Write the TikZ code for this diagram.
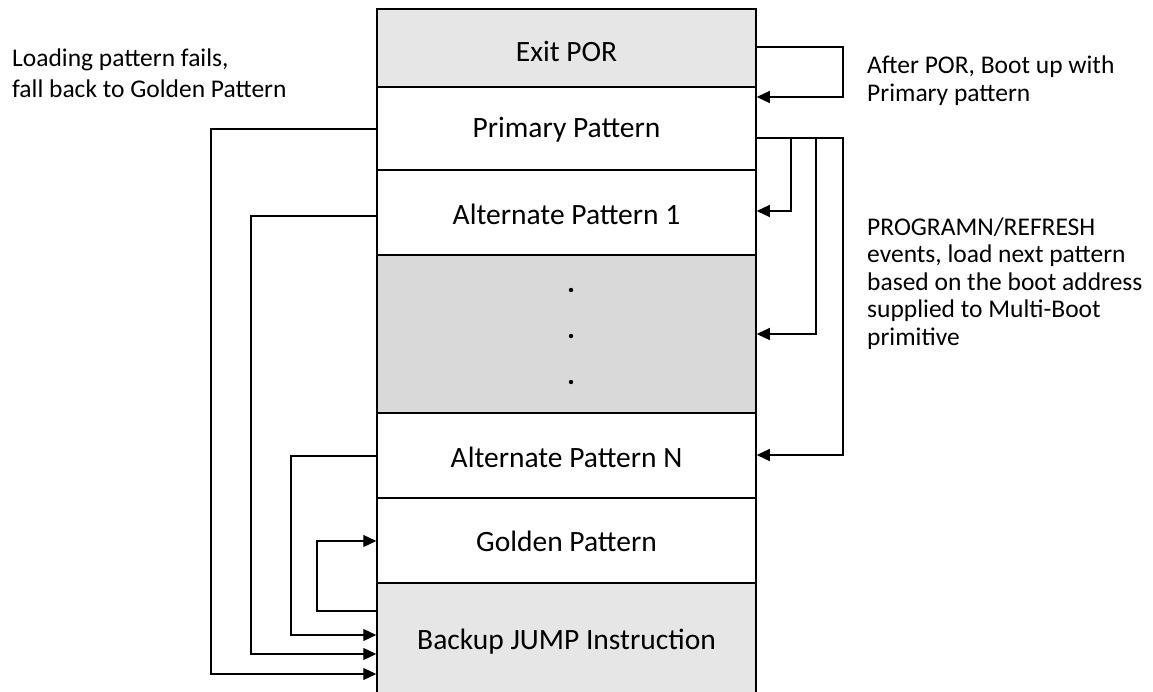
\documentclass[tikz,border=0pt]{standalone}
\usepackage{fontspec}
\setmainfont{Carlito}
\usetikzlibrary{arrows.meta}
\definecolor{lightfill}{HTML}{E7E6E6}
\definecolor{darkfill}{HTML}{D9D9D9}
\tikzset{
  rowbox/.style={draw=black, line width=1.5pt, minimum width=379pt, inner sep=0pt,
    text height=20pt, text depth=0pt, font=\fontsize{29.5}{34}\selectfont},
  conn/.style={draw=black, line width=1.2pt},
  arr/.style={conn, -{Triangle[length=13pt,width=12pt]}},
  note/.style={align=left, anchor=base west, inner sep=0pt, font=\fontsize{25.5}{27.5}\selectfont},
}
\begin{document}
\begin{tikzpicture}[x=1pt,y=-1pt]
\useasboundingbox (0,0) rectangle (1153,691);
% rows
\node[rowbox, fill=lightfill, minimum height=78pt, text height=27pt] (exit) at (566.5,48) {Exit POR};
\node[rowbox, fill=white, minimum height=83pt, text height=18pt] (prim) at (566.5,128.5) {Primary Pattern};
\node[rowbox, fill=white, minimum height=85pt, text height=24pt] (alt1) at (566.5,212.5) {Alternate Pattern 1};
\node[rowbox, fill=darkfill, minimum height=158pt] (dots) at (566.5,334) {};
\node[rowbox, fill=white, minimum height=85pt, text height=24pt] (altn) at (566.5,455.5) {Alternate Pattern N};
\node[rowbox, fill=white, minimum height=85pt, text height=21pt] (gold) at (566.5,540.5) {Golden Pattern};
\node[rowbox, fill=lightfill, minimum height=112pt, text height=21pt] (back) at (566.5,639) {Backup JUMP Instruction};
% dots
\fill (571,290) circle (2.2pt);
\fill (571,336) circle (2.2pt);
\fill (571,382) circle (2.2pt);
% right connectors
\coordinate (e1) at (843,47);
\draw[arr] (exit.east |- e1) -- (e1) -- (843,97) -- (prim.east |- 0,97);
\coordinate (p1) at (843,138);
\draw[arr] (prim.east |- p1) -- (p1) -- (843,455) -- (altn.east |- 0,455);
\draw[arr] (791,138) -- (791,211) -- (alt1.east |- 0,211);
\draw[arr] (816,138) -- (816,334) -- (dots.east |- 0,334);
% left connectors
\draw[arr] (prim.west |- 0,129) -- (211,129) -- (211,674) -- (back.west |- 0,674);
\draw[arr] (alt1.west |- 0,216) -- (251,216) -- (251,654) -- (back.west |- 0,654);
\draw[arr] (altn.west |- 0,456) -- (291,456) -- (291,635) -- (back.west |- 0,635);
\draw[arr] (back.west |- 0,611) -- (317,611) -- (317,541) -- (gold.west |- 0,541);
% notes
\node[note, font=\fontsize{25.5}{30.5}\selectfont] (lnote) at (12,97) {Loading pattern fails,\\fall back to Golden Pattern};
\node[note] (rnote1) at (867,101) {After POR, Boot up with\\Primary pattern};
\node[note] (rnote2) at (867,345) {PROGRAMN/REFRESH\\events, load next pattern\\based on the boot address\\supplied to Multi-Boot\\primitive};
\end{tikzpicture}
\end{document}
